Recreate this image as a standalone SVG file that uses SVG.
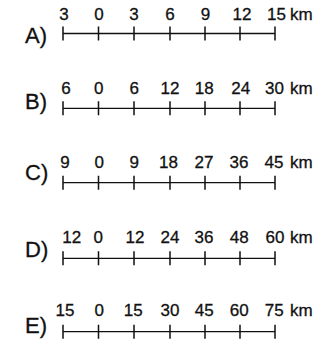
<svg xmlns="http://www.w3.org/2000/svg" width="328" height="343" viewBox="0 0 328 343">
<style>
.n{font-family:"Liberation Sans",Arial,sans-serif;font-size:17px;fill:#111;stroke:#111;stroke-width:0.3;text-anchor:middle}
.u{font-family:"Liberation Sans",Arial,sans-serif;font-size:17px;fill:#111;stroke:#111;stroke-width:0.3}
.l{font-family:"Liberation Sans",Arial,sans-serif;font-size:22px;fill:#111;stroke:#111;stroke-width:0.3}
.bar{stroke:#111;stroke-width:1.3;fill:none}
.tk{stroke:#111;stroke-width:1.5;fill:none}
</style>
<rect width="328" height="343" fill="#fff"/>
<defs>
<g id="scale">
<line class="bar" x1="63" y1="0" x2="275" y2="0"/>
<path class="tk" d="M63,-7V7M98.5,-7V7M134,-7V7M170,-7V7M205,-7V7M240,-7V7M275,-7V7"/>
</g>
</defs>
<g id="A">
<text class="l" x="25" y="42.5">A)</text>
<use href="#scale" y="33.5"/>
<text class="n" x="64" y="19.5">3</text><text class="n" x="99" y="19.5">0</text><text class="n" x="134" y="19.5">3</text><text class="n" x="170" y="19.5">6</text><text class="n" x="205.5" y="19.5">9</text><text class="n" x="242" y="19.5">12</text><text class="n" x="276.5" y="19.5">15</text><text class="u" x="290" y="19.5">km</text>
</g>
<g id="B">
<text class="l" x="25" y="109">B)</text>
<use href="#scale" y="108.3"/>
<text class="n" x="66" y="94">6</text><text class="n" x="98.7" y="94">0</text><text class="n" x="134.3" y="94">6</text><text class="n" x="170" y="94">12</text><text class="n" x="204.3" y="94">18</text><text class="n" x="240.7" y="94">24</text><text class="n" x="274.5" y="94">30</text><text class="u" x="290" y="94">km</text>
</g>
<g id="C">
<text class="l" x="25" y="179.5">C)</text>
<use href="#scale" y="182.7"/>
<text class="n" x="65" y="168.3">9</text><text class="n" x="99.3" y="168.3">0</text><text class="n" x="134.3" y="168.3">9</text><text class="n" x="168.5" y="168.3">18</text><text class="n" x="204" y="168.3">27</text><text class="n" x="239" y="168.3">36</text><text class="n" x="274" y="168.3">45</text><text class="u" x="290" y="168.3">km</text>
</g>
<g id="D">
<text class="l" x="25" y="256.5">D)</text>
<use href="#scale" y="258.3"/>
<text class="n" x="71.7" y="243.3">12</text><text class="n" x="98.3" y="243.3">0</text><text class="n" x="135" y="243.3">12</text><text class="n" x="170" y="243.3">24</text><text class="n" x="204" y="243.3">36</text><text class="n" x="239.3" y="243.3">48</text><text class="n" x="275" y="243.3">60</text><text class="u" x="290" y="243.3">km</text>
</g>
<g id="E">
<text class="l" x="25" y="333">E)</text>
<use href="#scale" y="331.7"/>
<text class="n" x="65" y="316">15</text><text class="n" x="99.3" y="316">0</text><text class="n" x="133.3" y="316">15</text><text class="n" x="170" y="316">30</text><text class="n" x="204.3" y="316">45</text><text class="n" x="239.3" y="316">60</text><text class="n" x="274.3" y="316">75</text><text class="u" x="290" y="316">km</text>
</g>
</svg>
